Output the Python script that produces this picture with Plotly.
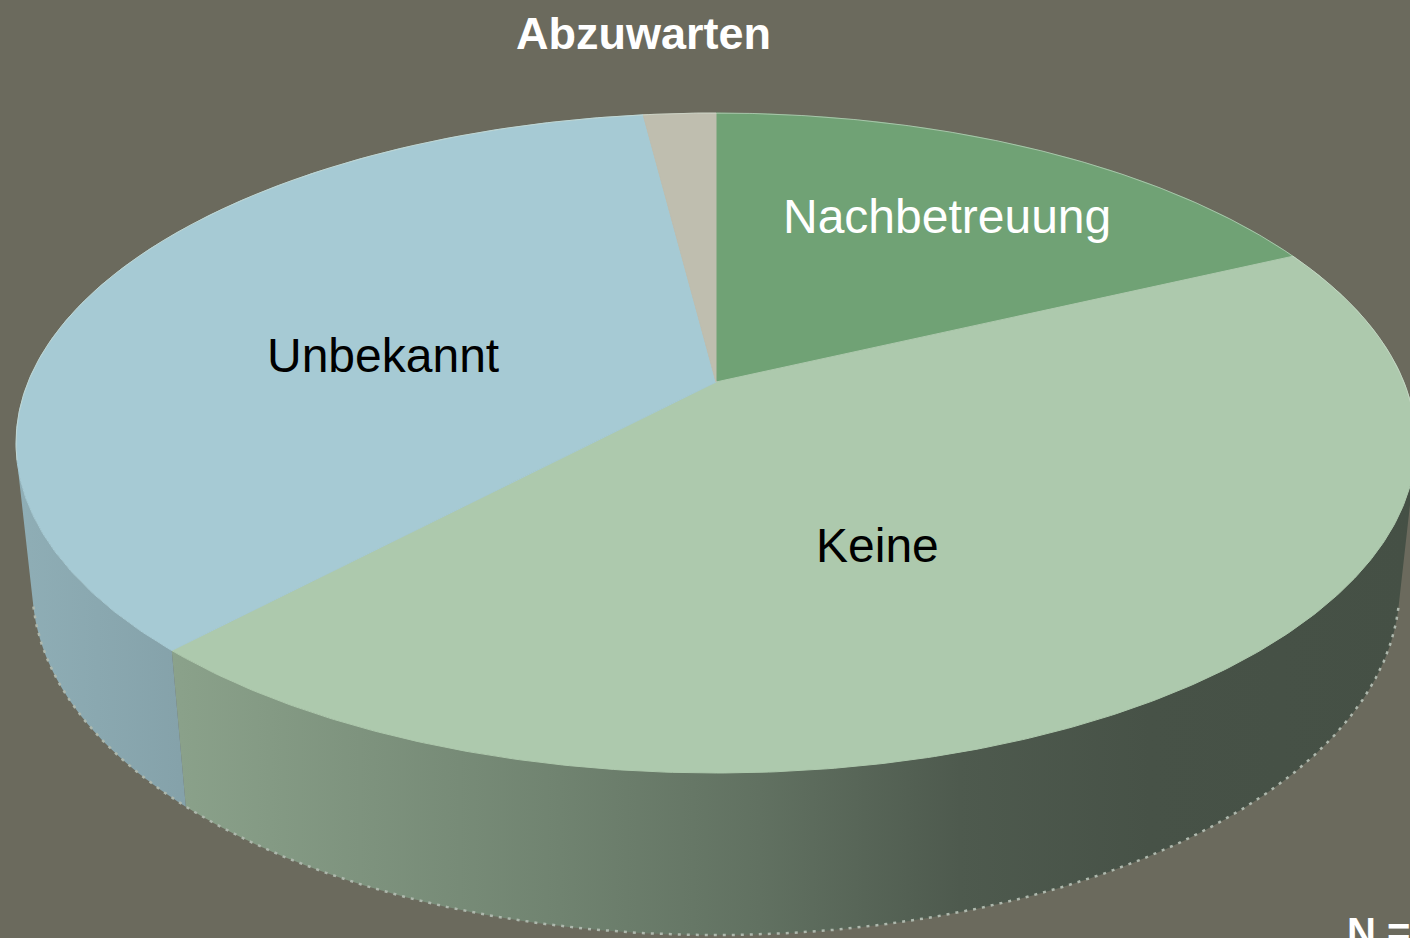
import numpy as np
import plotly.graph_objects as go

# ---------------- data ----------------
categories = ["Nachbetreuung", "Keine", "Unbekannt", "Abzuwarten"]
values = [18, 44, 36, 2]
title_text = "Abzuwarten"
n_text = "N ="

# ---------------- style ----------------
BG = "#6b6a5d"
top_colors = ["#70a275", "#adc9ad", "#a6cad4", "#bfbeaf"]
label_colors = ["white", "black", "black", None]
label_angle_shift = [-0.5, -11.4, 8.1, 0.0]     # degrees from slice middle
label_radius = [0.684, 0.514, 0.499, 0.0]        # fraction of radius
FONT = "Liberation Sans, Arial, sans-serif"

# side shading (fraction of top colour) as a function of screen x
SHADE_X = [15, 180, 360, 560, 760, 960, 1150, 1410]
SHADE_F = [0.86, 0.80, 0.73, 0.65, 0.56, 0.45, 0.41, 0.40]

# perspective camera for the 3D pie
W, H = 1410, 938
TILT = np.arcsin(0.4633)
RAD = 0.2086
FOCAL = 3297.7
THICK = 0.04956
CX, CY = 716.0, 382.0


def project(phi_deg, rho=1.0, depth=0.0):
    phi = np.radians(np.asarray(phi_deg, dtype=float))
    X = RAD * rho * np.cos(phi)
    Yw = RAD * rho * np.sin(phi)
    cx = X
    cy = -Yw * np.sin(TILT) + depth * np.cos(TILT)
    cz = 1.0 + Yw * np.cos(TILT) + depth * np.sin(TILT)
    return CX + FOCAL * cx / cz, CY + FOCAL * cy / cz


def hex_to_rgb(h):
    h = h.lstrip("#")
    return tuple(int(h[i:i + 2], 16) for i in (0, 2, 4))


def shade(hexcol, f):
    r, g, b = hex_to_rgb(hexcol)
    return "rgb(%d,%d,%d)" % (round(r * f), round(g * f), round(b * f))


total = float(sum(values))
cum = np.concatenate([[0.0], np.cumsum(values)])
theta_start = 90.0 - 360.0 * cum[:-1] / total
theta_end = 90.0 - 360.0 * cum[1:] / total

fig = go.Figure()

# ---------- visible side wall ----------
s = np.degrees(np.arcsin(RAD / np.cos(TILT)))
vis_lo, vis_hi = -180.0 + s, -s
for i, cat in enumerate(categories):
    for k in (-360.0, 0.0, 360.0):
        lo = max(theta_end[i] + k, vis_lo)
        hi = min(theta_start[i] + k, vis_hi)
        if hi <= lo:
            continue
        ph = np.linspace(lo, hi, max(int((hi - lo) * 2), 4))
        xt, yt = project(ph, 1.0, 0.0)
        xb, yb = project(ph[::-1], 1.0, THICK)
        xs = np.concatenate([xt, xb, xt[:1]])
        ys = np.concatenate([yt, yb, yt[:1]])
        span = SHADE_X[-1] - SHADE_X[0]
        cscale = [[(sx - SHADE_X[0]) / span, shade(top_colors[i], sf)]
                  for sx, sf in zip(SHADE_X, SHADE_F)]
        fig.add_trace(go.Scatter(
            x=xs, y=ys, mode="none", fill="toself",
            fillgradient=dict(type="horizontal", colorscale=cscale,
                              start=SHADE_X[0], stop=SHADE_X[-1]),
            hoverinfo="skip", showlegend=False))

# dotted light rim along the bottom edge
ph = np.linspace(vis_lo, vis_hi, 400)
xb, yb = project(ph, 1.0, THICK)
fig.add_trace(go.Scatter(x=xb, y=yb, mode="lines",
                         line=dict(color="#aeb8ad", width=2.5, dash="3px,6px"),
                         hoverinfo="skip", showlegend=False))

# ---------- top faces ----------
for i, cat in enumerate(categories):
    ph = np.linspace(theta_start[i], theta_end[i],
                     max(int(abs(theta_start[i] - theta_end[i]) * 2), 4))
    xa, ya = project(ph, 1.0, 0.0)
    x0, y0 = project(0.0, 0.0, 0.0)
    xs = np.concatenate([[x0], xa, [x0]])
    ys = np.concatenate([[y0], ya, [y0]])
    fig.add_trace(go.Scatter(
        x=xs, y=ys, mode="lines", fill="toself",
        fillcolor=top_colors[i], line=dict(color=top_colors[i], width=1),
        hoverinfo="skip", showlegend=False, name=cat))

# light highlight on the back rim
ph = np.linspace(vis_hi, vis_lo + 360.0, 600)
xr, yr = project(ph, 1.0, 0.0)
fig.add_trace(go.Scatter(x=xr, y=yr, mode="lines",
                         line=dict(color="rgba(215,228,215,0.55)", width=1),
                         hoverinfo="skip", showlegend=False))

# ---------- labels ----------
annotations = []
for i, cat in enumerate(categories):
    if label_colors[i] is None:
        continue
    mid = (theta_start[i] + theta_end[i]) / 2.0 + label_angle_shift[i]
    lx, ly = project(mid, label_radius[i], 0.0)
    annotations.append(dict(x=float(lx), y=float(ly), xref="x", yref="y",
                            text=cat, showarrow=False, xanchor="center",
                            yanchor="middle",
                            font=dict(family=FONT, size=48,
                                      color=label_colors[i])))

annotations.append(dict(x=643, y=33, xref="x", yref="y", text="<b>%s</b>" % title_text,
                        showarrow=False, xanchor="center", yanchor="middle",
                        font=dict(family=FONT, size=45, color="white")))
annotations.append(dict(x=1345, y=908, xref="x", yref="y", text="<b>%s</b>" % n_text,
                        showarrow=False, xanchor="left", yanchor="top",
                        font=dict(family=FONT, size=40, color="white")))

fig.update_layout(
    width=W, height=H,
    margin=dict(l=0, r=0, t=0, b=0),
    paper_bgcolor=BG, plot_bgcolor=BG,
    xaxis=dict(range=[0, W], visible=False, fixedrange=True),
    yaxis=dict(range=[H, 0], visible=False, fixedrange=True),
    annotations=annotations,
    showlegend=False,
)

fig.write_html("out.html", config={"displayModeBar": False},
               post_script="document.body.style.margin='0';document.body.style.overflow='hidden';")
